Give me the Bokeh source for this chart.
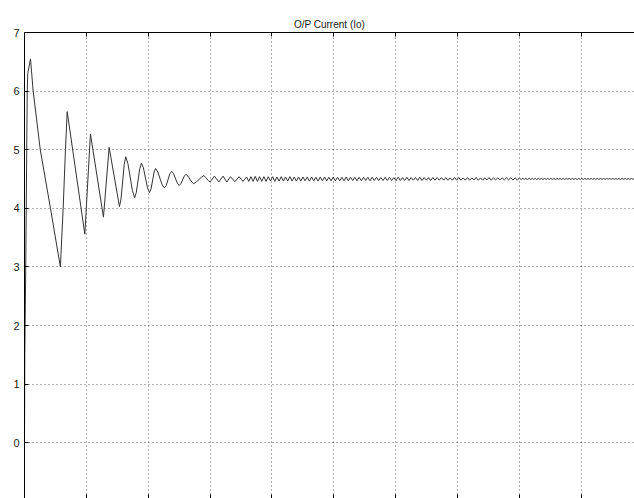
import numpy as np
from bokeh.plotting import figure
from bokeh.models import Range1d, SingleIntervalTicker, FixedTicker, LinearAxis, CustomJSTickFormatter
from bokeh.embed import file_html
from bokeh.resources import INLINE

# ---- data ----
title_text = "O/P Current (Io)"
y_ticks = [0, 1, 2, 3, 4, 5, 6, 7]

# start-up transient: (time, current)
t_transient = [0.000, 0.0005, 0.002, 0.0044, 0.0053, 0.0097, 0.0140, 0.0255, 0.042, 0.058,
               0.0625, 0.0662, 0.069, 0.0975, 0.1066, 0.1276, 0.1368, 0.1535,
               0.1560, 0.1612, 0.1637, 0.1672, 0.1745, 0.178,
               0.1807, 0.1863, 0.189, 0.1922, 0.1988, 0.202,
               0.2045, 0.2095, 0.212, 0.2155, 0.2225, 0.226,
               0.229, 0.235, 0.238, 0.241, 0.247, 0.250,
               0.2527, 0.2583, 0.261, 0.2642, 0.2703, 0.2735,
               0.2776, 0.2859, 0.290, 0.2925, 0.2975, 0.300,
               0.307, 0.314, 0.321, 0.327, 0.333, 0.340, 0.347, 0.353, 0.359]
i_transient = [0.0, 1.5, 3.0, 6.0, 6.3, 6.55, 6.0, 5.0, 4.0, 3.0,
               4.0, 5.0, 5.65, 3.56, 5.27, 3.85, 5.04, 4.03,
               4.16, 4.75, 4.88, 4.76, 4.30, 4.18,
               4.27, 4.68, 4.77, 4.69, 4.35, 4.27,
               4.33, 4.62, 4.68, 4.62, 4.40, 4.35,
               4.39, 4.59, 4.63, 4.59, 4.43, 4.39,
               4.42, 4.55, 4.58, 4.55, 4.45, 4.42,
               4.45, 4.53, 4.56, 4.53, 4.47, 4.45,
               4.55, 4.45, 4.55, 4.45, 4.54, 4.455, 4.54, 4.46, 4.535]

# ripple section 1: troughs and crests
ripple1_span = [0.3625, 0.800]
ripple1_lo = [4.46, 4.46, 4.46, 4.46, 4.46, 4.465, 4.46, 4.465, 4.465,
              4.465, 4.465, 4.465, 4.465, 4.47, 4.465, 4.47, 4.465, 4.47, 4.47,
              4.47, 4.47, 4.47, 4.47, 4.47, 4.475, 4.47, 4.47, 4.475, 4.47,
              4.475, 4.475, 4.475, 4.475, 4.475, 4.475, 4.475, 4.475, 4.475, 4.48,
              4.475, 4.475, 4.48, 4.475, 4.48, 4.48, 4.48, 4.48, 4.48, 4.48,
              4.48, 4.48, 4.48, 4.485, 4.48, 4.48, 4.485, 4.48, 4.485, 4.485,
              4.485, 4.485, 4.485, 4.485]
ripple1_hi = [4.54, 4.545, 4.54, 4.54, 4.54, 4.54, 4.535, 4.54, 4.535,
              4.54, 4.535, 4.535, 4.535, 4.535, 4.535, 4.53, 4.535, 4.535, 4.53,
              4.535, 4.53, 4.53, 4.535, 4.53, 4.53, 4.53, 4.53, 4.53, 4.53,
              4.53, 4.525, 4.53, 4.53, 4.525, 4.53, 4.525, 4.53, 4.525, 4.525,
              4.53, 4.525, 4.525, 4.525, 4.525, 4.525, 4.525, 4.52, 4.525, 4.525,
              4.52, 4.525, 4.52, 4.525, 4.52, 4.52, 4.525, 4.52, 4.52, 4.52,
              4.52, 4.52, 4.52, 4.515]

# ripple section 2: very small ripple
ripple2_span = [0.803, 0.986]
ripple2_lo = [4.492, 4.493, 4.492, 4.493, 4.493, 4.492, 4.493, 4.494, 4.493, 4.493,
              4.494, 4.493, 4.494, 4.494, 4.493, 4.494, 4.494, 4.495, 4.494, 4.494,
              4.495, 4.494, 4.495, 4.495, 4.494, 4.495, 4.495, 4.495, 4.496, 4.495,
              4.495, 4.496, 4.495, 4.496, 4.496, 4.496, 4.496]
ripple2_hi = [4.512, 4.511, 4.512, 4.511, 4.511, 4.512, 4.511, 4.510, 4.511, 4.511,
              4.510, 4.511, 4.510, 4.510, 4.511, 4.510, 4.510, 4.509, 4.510, 4.510,
              4.509, 4.510, 4.509, 4.509, 4.510, 4.509, 4.509, 4.509, 4.508, 4.509,
              4.509, 4.508, 4.509, 4.508, 4.508, 4.508, 4.508]


def interleave(lo, hi):
    out = []
    for a, b in zip(lo, hi):
        out.extend([a, b])
    return out


r1 = interleave(ripple1_lo, ripple1_hi)
r2 = interleave(ripple2_lo, ripple2_hi)
t1 = list(np.linspace(ripple1_span[0], ripple1_span[1], len(r1)))
t2 = list(np.linspace(ripple2_span[0], ripple2_span[1], len(r2)))

t_all = list(t_transient) + t1 + t2
i_all = list(i_transient) + r1 + r2

# ---- figure ----
FONT = "Liberation Sans"
p = figure(width=634, height=498, output_backend="svg", toolbar_location=None,
           x_range=Range1d(0, 0.986), y_range=Range1d(-0.95, 7),
           min_border_left=24, min_border_right=0, min_border_top=32, min_border_bottom=0,
           background_fill_color="white", border_fill_color="white")

p.title.text = title_text
p.title.align = "center"
p.title.text_font = FONT
p.title.text_font_size = "10px"
p.title.text_font_style = "normal"
p.title.text_color = "#222222"
p.title.standoff = 6

p.outline_line_color = None

# y axis
p.yaxis.ticker = FixedTicker(ticks=y_ticks)
p.yaxis.major_tick_in = 4
p.yaxis.major_tick_out = 0
p.yaxis.minor_tick_in = 0
p.yaxis.minor_tick_out = 0
p.yaxis.major_label_standoff = 5
p.yaxis.major_label_text_font = FONT
p.yaxis.major_label_text_font_size = "11px"
p.yaxis.major_label_text_color = "#222222"
p.yaxis.axis_line_color = "black"
p.yaxis.major_tick_line_color = "black"

# x axis (its labels fall outside the visible region in the reference)
blank = CustomJSTickFormatter(code="return ''")
p.xaxis.ticker = SingleIntervalTicker(interval=0.1, num_minor_ticks=0)
p.xaxis.formatter = blank
p.xaxis.major_tick_in = 4
p.xaxis.major_tick_out = 0
p.xaxis.minor_tick_in = 0
p.xaxis.minor_tick_out = 0
p.xaxis.major_label_standoff = 0
p.xaxis.axis_line_color = "black"

top = LinearAxis(ticker=SingleIntervalTicker(interval=0.1, num_minor_ticks=0),
                 formatter=CustomJSTickFormatter(code="return ''"),
                 major_tick_in=4, major_tick_out=0, minor_tick_in=0, minor_tick_out=0,
                 major_label_standoff=0, axis_line_color="black")
p.add_layout(top, "above")

for g in (p.xgrid, p.ygrid):
    g.grid_line_color = "#555555"
    g.grid_line_dash = "1 3"
    g.grid_line_alpha = 0.9
    g.grid_line_width = 1

p.line(t_all, i_all, line_color="#333333", line_width=1)

open("out.html", "w").write(file_html(p, INLINE))
